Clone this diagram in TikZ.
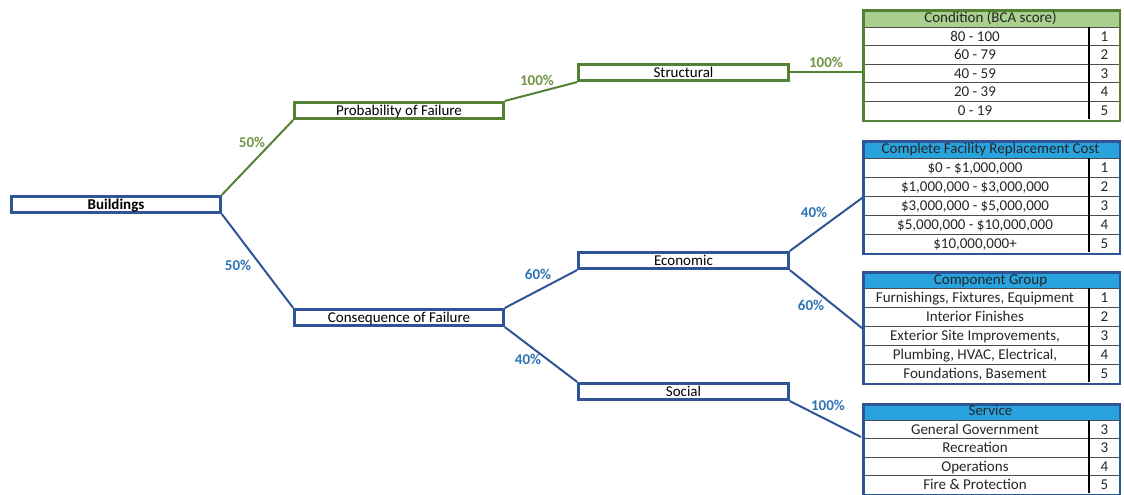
\documentclass[tikz,border=0pt]{standalone}
\usepackage{fontspec}
\setmainfont{Carlito}
\definecolor{gborder}{RGB}{84,130,53}
\definecolor{glabel}{RGB}{112,150,70}
\definecolor{bborder}{RGB}{47,85,151}
\definecolor{blabel}{RGB}{46,117,182}
\definecolor{ghead}{RGB}{169,208,142}
\definecolor{bhead}{RGB}{41,163,222}
\tikzset{
 treebox/.style={draw, line width=2.6pt, minimum width=209pt, minimum height=16.5pt, inner sep=0pt, text height=12.5pt, text depth=3pt, font=\fontsize{15}{17}\selectfont, text=black},
 gbox/.style={treebox, draw=gborder},
 bbox/.style={treebox, draw=bborder},
 pct/.style={font=\fontsize{15}{17}\selectfont\bfseries, inner sep=0pt},
 gpct/.style={pct, text=glabel},
 bpct/.style={pct, text=blabel},
 gline/.style={draw=gborder, line width=2pt},
 bline/.style={draw=bborder, line width=2pt},
 cell/.style={font=\fontsize{15}{17}\selectfont, inner sep=0pt, text height=12.5pt, text depth=3pt, text=black!85},
 rowline/.style={draw=black!70, line width=0.7pt},
 divline/.style={draw=black, line width=1.5pt},
 tframe/.style={draw, line width=2.6pt, minimum width=256.4pt, inner sep=0pt, anchor=north west},
}
\begin{document}
\begin{tikzpicture}[x=1pt,y=-1pt]
\useasboundingbox (0,0) rectangle (1124,495);
% tree boxes
\node[bbox, font=\fontsize{15}{17}\selectfont\bfseries] (bld) at (116,204.5) {Buildings};
\node[gbox] (pf) at (399,110.5) {Probability of Failure};
\node[gbox, minimum width=210pt] (st) at (683.5,72.5) {Structural};
\node[bbox] (cf) at (399,317.5) {Consequence of Failure};
\node[bbox, minimum width=210pt] (ec) at (683.5,260.5) {Economic};
\node[bbox, minimum width=210pt] (so) at (683.5,391.5) {Social};

% ---- Condition table
\fill[ghead] (862,9) rectangle (1119,27);
\draw[rowline] (862,27) -- (1119,27);
\foreach \y in {45.6,64.2,82.8,101.4} \draw[rowline] (862,\y) -- (1119,\y);
\draw[divline] (1089,27) -- (1089,119);
\node[tframe, draw=gborder, minimum height=110.4pt] (cond) at (862.3,9.3) {};
\node[cell] (condh) at (990.5,17.5) {Condition (BCA score)};
\node[cell] (c1) at (975,36.3) {80 - 100};
\node[cell] (c2) at (975,54.9) {60 - 79};
\node[cell] (c3) at (975,73.5) {40 - 59};
\node[cell] (c4) at (975,92.1) {20 - 39};
\node[cell] (c5) at (975,110.7) {0 - 19};
\node[cell] (n1) at (1104.5,36.3) {1};
\node[cell] (n2) at (1104.5,54.9) {2};
\node[cell] (n3) at (1104.5,73.5) {3};
\node[cell] (n4) at (1104.5,92.1) {4};
\node[cell] (n5) at (1104.5,110.7) {5};

% ---- Complete Facility Replacement Cost table
\fill[bhead] (862,140) rectangle (1119,158);
\draw[rowline] (862,158) -- (1119,158);
\foreach \y in {177,196,215,234} \draw[rowline] (862,\y) -- (1119,\y);
\draw[divline] (1089,158) -- (1089,252);
\node[tframe, draw=bborder, minimum height=112.4pt] (cfrc) at (862.3,140.3) {};
\node[cell] (cfrch) at (990.5,149) {Complete Facility Replacement Cost};
\node[cell] (f1) at (975,167.5) {\$0 - \$1,000,000};
\node[cell] (f2) at (975,186.5) {\$1,000,000 - \$3,000,000};
\node[cell] (f3) at (975,205.5) {\$3,000,000 - \$5,000,000};
\node[cell] (f4) at (975,224.5) {\$5,000,000 - \$10,000,000};
\node[cell] (f5) at (975,243.5) {\$10,000,000+};
\node[cell] (fn1) at (1104.5,167.5) {1};
\node[cell] (fn2) at (1104.5,186.5) {2};
\node[cell] (fn3) at (1104.5,205.5) {3};
\node[cell] (fn4) at (1104.5,224.5) {4};
\node[cell] (fn5) at (1104.5,243.5) {5};

% ---- Component Group table
\fill[bhead] (862,271) rectangle (1119,288);
\draw[rowline] (862,288) -- (1119,288);
\foreach \y in {307,326,345,364} \draw[rowline] (862,\y) -- (1119,\y);
\draw[divline] (1089,288) -- (1089,382);
\node[tframe, draw=bborder, minimum height=111.4pt] (comp) at (862.3,271.3) {};
\node[cell] (comph) at (990.5,279.5) {Component Group};
\node[cell] (g1) at (975,297.5) {Furnishings, Fixtures, Equipment};
\node[cell] (g2) at (975,316.5) {Interior Finishes};
\node[cell] (g3) at (975,335.5) {Exterior Site Improvements,};
\node[cell] (g4) at (975,354.5) {Plumbing, HVAC, Electrical,};
\node[cell] (g5) at (975,373.5) {Foundations, Basement};
\node[cell] (gn1) at (1104.5,297.5) {1};
\node[cell] (gn2) at (1104.5,316.5) {2};
\node[cell] (gn3) at (1104.5,335.5) {3};
\node[cell] (gn4) at (1104.5,354.5) {4};
\node[cell] (gn5) at (1104.5,373.5) {5};

% ---- Service table
\fill[bhead] (862,403) rectangle (1119,420);
\draw[rowline] (862,420) -- (1119,420);
\foreach \y in {438.5,457,475.5} \draw[rowline] (862,\y) -- (1119,\y);
\draw[divline] (1089,420) -- (1089,493);
\node[tframe, draw=bborder, minimum height=90.2pt] (serv) at (862.3,403.3) {};
\node[cell] (servh) at (990.5,411) {Service};
\node[cell] (s1) at (975,429.25) {General Government};
\node[cell] (s2) at (975,447.75) {Recreation};
\node[cell] (s3) at (975,466.25) {Operations};
\node[cell] (s4) at (975,484.75) {Fire \& Protection};
\node[cell] (sn1) at (1104.5,429.25) {3};
\node[cell] (sn2) at (1104.5,447.75) {3};
\node[cell] (sn3) at (1104.5,466.25) {4};
\node[cell] (sn4) at (1104.5,484.75) {5};

% ---- connectors
\coordinate (servin) at (861,437);
\draw[gline] (bld.north east) -- (pf.south west);
\draw[bline] (bld.south east) -- (cf.north west);
\draw[gline] (pf.north east) -- (st.south west);
\draw[gline] (st.east) -- (cond.west |- st.east);
\draw[bline] (cf.north east) -- (ec.south west);
\draw[bline] (cf.south east) -- (so.north west);
\draw[bline] (ec.north east) -- (cfrc.west);
\draw[bline] (ec.south east) -- (comp.west);
\draw[bline] (so.south east) -- (servin);

% ---- percentages
\node[gpct] (p1) at (252,142) {50\%};
\node[bpct] (p2) at (238,265) {50\%};
\node[gpct] (p3) at (537,80) {100\%};
\node[gpct] (p4) at (826,62) {100\%};
\node[bpct] (p5) at (538,274) {60\%};
\node[bpct] (p6) at (528,359) {40\%};
\node[bpct] (p7) at (814,212) {40\%};
\node[bpct] (p8) at (811,305) {60\%};
\node[bpct] (p9) at (828,405) {100\%};
\end{tikzpicture}
\end{document}
